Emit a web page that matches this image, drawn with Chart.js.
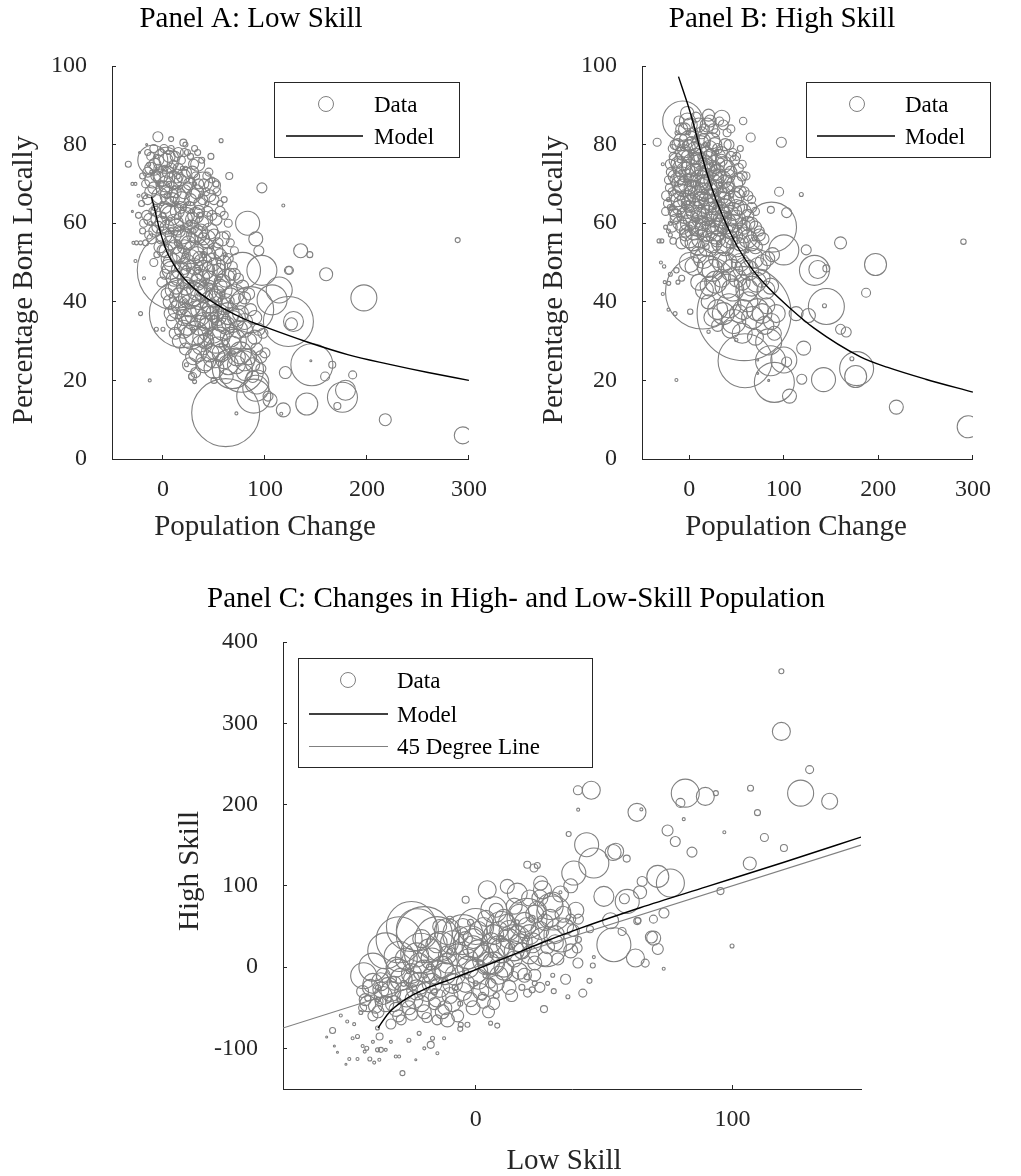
<!DOCTYPE html>
<html>
<head>
<meta charset="utf-8">
<title>Population change and share born locally</title>
<script src="https://cdn.jsdelivr.net/npm/chart.js@4.4.1/dist/chart.umd.min.js"></script>
<style>
  body { margin: 0; background: #fff; }
  #page { position: relative; width: 1021px; height: 1176px; }
  .panel { position: absolute; }
  #boxA { left: 0; top: 0; width: 510px; height: 560px; }
  #boxB { left: 510px; top: 0; width: 511px; height: 560px; }
  #boxC { left: 0; top: 560px; width: 1021px; height: 616px; }
</style>
</head>
<body>
<div id="page">
  <div class="panel" id="boxA"><canvas id="chartA"></canvas></div>
  <div class="panel" id="boxB"><canvas id="chartB"></canvas></div>
  <div class="panel" id="boxC"><canvas id="chartC"></canvas></div>
</div>
<script>
/* ---------- DATA ---------- */
// tick values
const popTicks = [0, 100, 200, 300];
const shareTicks = [0, 20, 40, 60, 80, 100];
const lowChangeTicks = [0, 100];
const highChangeTicks = [-100, 0, 100, 200, 300, 400];

// Panel A: [population change, % born locally, marker radius]
const lowSkillCities = [
  [289,55.7,2.5],[294,6,8.5],[218,10,6],[197,41,13],[176,15.7,15],[179,17.5,10],[171,13.5,3.5],[186,21.4,4],
  [166,24,3.5],[159,21,4.5],[160,47,6.5],[146,24,21],[145,25,1],[141,14,11],[135,53,7],[144,52,3],
  [118,64.5,1.5],[123,48,4],[126,34.4,6],[128,35,10],[118,12.5,7],[120,22,6],[116,11.5,1.5],[97,69,5],
  [57,81,2],[65,72,3.5],[83,60,12],[91,56,7],[94,53,5],[97,48,15],[107,40.5,15],[123,35,25],
  [89,16,17],[91,18,13],[92,19.6,12],[105,15,7],[103,16,5],[61.5,11.8,34],[72,11.6,1.5],[68,23,20],
  [77,22.6,22],[29,21,4],[-13,20,1.5],[-22,37,2],[-34,75,3],[-5,82,5],[8,81.4,2.5],[20,80.5,3.5],
  [22,80,2.5],[31,79,3],[47,77,3],[114,43,13],[86,38,23],[78,48,18],[124,48,4],[14,48,40],
  [20,37,34],[-10,76,15],[3,76,13],[34,75,7],[39,70.5,10],[48.5,69.5,8],
  [-27,50.4,1.5],[-18.6,46,1.5],[-6.5,33,2],[0,33,2],[23,24,2],[28,21,3],[31,19.7,2],[50,20,3],
  [-30,70,1.5],[-27,70,1.5],[-24,67,1.5],[-29,55,1.5],[-26,55,2],[-22,55,2],[-20,58,3],[-24,62,3],
  [-30,63,1],[-23,78,1],[-16,80,1],
  [-12,77,4],[-8,75,6],[-2,78,3],[3,76,7],[8,79,3],[12,77,5],[18,76,4],[24,78,3],[30,75,5],[38,76,3],[45,73,4],
  [-20,72,3],[-15,73,5],[-10,71,8],[-5,74,4],[0,72,10],[5,73,6],[10,71,9],[15,74,5],[20,72,7],[26,70,6],[32,72,4],[40,70,5],[48,71,3],
  [-18,67,3],[-12,68,6],[-6,66,5],[0,69,7],[6,67,9],[12,68,6],[18,66,8],[24,69,5],[30,67,7],[36,65,6],[42,68,4],[50,66,5],[56,65,3],
  [-16,62,5],[-10,63,4],[-4,61,8],[2,64,6],[8,62,10],[14,63,7],[20,61,9],[26,64,6],[32,62,8],[38,60,7],[44,63,5],[52,61,6],[60,62,4],
  [-14,57,4],[-8,58,6],[-2,56,5],[4,59,7],[10,57,8],[16,58,6],[22,56,10],[28,59,7],[34,57,9],[40,56,6],[46,58,8],[54,55,5],[62,57,4],
  [-6,52,3],[0,53,6],[6,51,8],[12,54,7],[18,52,9],[24,50,8],[30,53,10],[36,51,7],[42,54,8],[48,50,9],[56,52,6],[64,51,5],[70,53,4],
  [2,47,5],[8,48,9],[14,46,7],[20,49,8],[28,47,11],[34,45,8],[40,48,10],[46,46,7],[52,49,9],[58,45,8],[66,47,6],[74,46,5],
  [4,42,6],[10,43,8],[16,41,10],[22,44,9],[30,42,12],[36,40,8],[44,43,10],[50,41,9],[56,44,7],[62,40,8],[70,42,10],[80,41,6],
  [8,37,7],[14,38,9],[20,36,8],[26,39,11],[34,37,13],[40,35,9],[48,38,10],[54,36,8],[60,39,9],[68,35,11],[76,37,8],[86,38,6],
  [12,32,6],[20,33,9],[28,31,12],[36,34,10],[42,30,8],[48,33,14],[56,31,10],[62,34,9],[70,30,12],[80,33,8],[90,31,7],[98,32,5],
  [22,28,6],[30,26,8],[38,29,10],[46,27,9],[54,28,12],[60,25,8],[68,29,9],[76,27,11],[84,26,8],[92,28,6],[100,27,5],
  [32,22,5],[40,24,8],[50,23,10],[62,21,7],[72,24,9],[80,22,8],[88,21,6],[96,23,5],
  [-14,75,2],[-6,77,2],[2,74,3],[6,70,2.5],[14,72,3],[22,74,2],[28,71,3],[-2,70,3],[10,66,3],[16,69,2],
  [4,67,3],[20,64,3],[26,60,3],[8,58,3],[14,55,3],[30,58,2.5],[36,62,3],[22,52,3],[40,52,3],[34,48,3],
  [46,44,3],[52,38,3],[58,42,2.5],[28,44,3],[-8,64,3],[-12,60,2],[-4,58,2],[0,62,3],
  [-15,78,3],[-9,79,4],[-4,76,5],[1,79,4],[6,77,6],[10,75,4],[15,78,5],[21,78,4],[27,77,3],[34,78,3],
  [-17,70,4],[-12,74,6],[-7,72,5],[-2,72,7],[3,70,8],[8,74,5],[13,72,7],[17,71,6],[23,73,5],[29,73,6],[35,70,5],[43,72,4],[52,70,3],
  [-21,65,3],[-15,66,5],[-9,69,6],[-3,67,8],[3,68,6],[9,66,7],[15,67,8],[21,68,7],[27,66,6],[33,68,7],[39,66,5],[46,67,6],[53,68,4],[60,66,3],
  [-19,60,4],[-13,61,6],[-7,63,5],[-1,60,7],[5,63,8],[11,60,9],[17,64,6],[23,62,8],[29,61,7],[35,63,6],[41,61,8],[48,62,5],[56,63,5],[64,60,4],
  [-17,55,3],[-11,56,5],[-5,59,6],[1,57,8],[7,55,7],[13,59,8],[19,57,9],[25,55,7],[31,57,8],[37,58,7],[43,56,9],[50,57,6],[58,56,7],[66,55,4],
  [-9,50,4],[-3,54,6],[3,53,7],[9,50,9],[15,52,8],[21,54,7],[27,51,9],[33,52,8],[39,50,9],[45,52,7],[51,53,8],[60,50,7],[68,49,5],
  [-1,45,5],[5,49,7],[11,46,8],[17,48,9],[24,46,10],[31,49,8],[37,46,9],[43,48,8],[49,47,10],[55,48,7],[62,46,9],[70,47,6],[78,44,6],
  [7,40,7],[13,44,8],[19,42,9],[26,41,11],[33,43,10],[40,42,9],[47,40,11],[53,42,8],[59,43,9],[66,41,10],[74,40,8],[84,42,6],
  [11,35,8],[17,39,9],[23,37,10],[30,36,12],[37,38,10],[44,36,11],[51,37,9],[57,35,10],[64,37,11],[72,36,9],[80,35,8],[90,36,7],
  [16,30,7],[24,34,10],[32,32,12],[39,31,10],[45,35,9],[52,30,12],[59,33,11],[66,31,10],[74,33,9],[84,30,8],[94,33,6],
  [26,24,7],[34,27,9],[42,25,10],[50,26,11],[57,27,9],[64,24,10],[72,26,9],[80,25,10],[88,24,7],[96,26,6],
  [-11,73,2],[-5,70,2],[5,78,2],[11,69,2],[19,74,2],[25,65,2],[31,70,2],[37,67,2],[-1,65,2],[7,61,2],
  [13,65,2],[19,59,2],[29,63,2],[43,65,2],[3,55,2],[17,54,2],[33,55,2],[47,54,2],[25,48,2],[41,45,2],
  [55,46,2],[61,52,2],[21,40,2],[35,42,2],[49,36,2],[63,38,2],[29,33,2],[43,32,2],[57,29,2],[69,27,2]
];
const lowSkillModelX = [-11.3, -8, -4, 0, 4, 8, 15, 23, 35, 48.5, 60, 80, 100, 140, 182, 220, 260, 300];
const lowSkillModelY = [66.7, 63.4, 59, 55.5, 52.6, 50.6, 47.8, 45.3, 42.4, 40, 38.2, 35.6, 33.6, 29.9, 26.5, 24.2, 22, 20];

// Panel B: [population change, % born locally, marker radius]
const highSkillCities = [
  [290,55.3,2.7],[295,8.2,11],[219,13.2,7],[197,49.5,11],[187,42.3,4.5],[177,23,17],[176,21,11],[172,25.5,2],
  [160,55,6],[160,33,5],[166,32.3,5],[142,20.2,12],[145,38.8,18],[143,39,2],[136,48.2,9],[145,48.5,3.5],
  [126,36.5,7],[121,28.2,7],[119,20.3,5],[106,16,7],[103,24.7,5],[90,19.5,20],[86,25,15],[59,25,27],
  [58,37,47],[14,42.5,37],[113,37,7],[-13.6,20.1,1.5],[84,29.8,13],[100,25.2,13],[-34,80.6,4],[97.4,80.6,5],
  [95,68,4.5],[118.5,67.3,2],[57,86,3.7],[65,81.8,4.5],[34.4,86.7,8],[20.4,87.5,6],[-7,86,20],[-2.2,88,6.7],
  [123.7,53.2,5],[103,62.7,5],[86.3,63.4,3.5],[87,59,25],[100,53.2,15],[132.4,48,15],[-32,55.5,2],[-29,55.5,2],
  [-17,55.5,3.3],[-30,50,1.5],[-21.7,44.7,2],[-13.6,48,2.7],[-26.6,49,1.7],[1,37.5,2.7],[20.4,32.4,1.7],
  [49.7,30.3,1.7],[72.4,25.2,1],[72.4,21.8,1],[84,20,1],[-28,75,1.5],[-26,45,1.5],[-28,42,1.5],[-20,47,2],
  [-22,38,1.5],[-15,37,2],[-12,45,2],[-8,46,3],[-25,59,2],[-22,58,2],[-20,57,2],
  [-8,84,6],[-2,86,8],[4,83,5],[10,85,7],[16,84,5],[22,86,6],[28,83,4],[36,85,5],[44,84,4],
  [-18,79,4],[-12,80,6],[-6,78,8],[0,81,10],[6,79,7],[12,80,9],[18,78,6],[24,81,8],[30,79,5],[38,80,6],[46,78,4],[54,79,3],
  [-20,75,5],[-14,76,7],[-8,74,9],[-2,77,6],[4,75,11],[10,76,8],[16,74,10],[22,77,7],[28,75,9],[34,76,6],[40,74,8],[48,76,5],[56,75,4],
  [-22,71,4],[-16,72,6],[-10,70,8],[-4,73,10],[2,71,7],[8,72,12],[14,70,9],[20,73,8],[26,71,10],[32,72,7],[38,70,9],[44,73,6],[52,71,7],[60,72,4],
  [-24,67,5],[-18,68,4],[-12,66,7],[-6,69,9],[0,67,6],[6,68,10],[12,66,8],[18,69,11],[24,67,7],[30,68,9],[36,66,8],[42,69,6],[50,67,8],[58,68,5],[66,66,4],
  [-25,63,4],[-20,64,3],[-14,62,6],[-8,65,8],[-2,63,7],[4,64,9],[10,62,8],[16,65,10],[22,63,9],[28,64,7],[34,62,10],[40,65,8],[46,63,9],[54,64,7],[62,62,6],[70,63,4],
  [-18,59,5],[-10,60,7],[-4,58,6],[2,61,8],[8,59,9],[14,60,7],[20,58,10],[26,61,8],[32,59,9],[38,60,11],[44,58,8],[50,61,9],[58,59,7],[66,60,6],[74,58,5],
  [-8,55,6],[0,56,9],[8,54,8],[16,57,7],[24,55,10],[30,56,8],[38,54,9],[46,57,10],[54,55,8],[62,56,9],[70,54,7],[78,56,6],
  [0,50,10],[10,52,8],[20,49,11],[30,51,9],[40,50,10],[50,52,8],[58,49,9],[68,51,10],[78,50,8],[88,52,7],
  [10,45,8],[22,44,10],[34,46,9],[46,43,11],[56,45,8],[66,44,10],[76,46,9],[86,44,8],
  [20,40,7],[30,38,10],[42,39,12],[52,37,9],[62,40,10],[72,38,11],[82,39,8],[92,37,9],
  [30,34,6],[44,33,9],[56,32,10],[70,31,8],[80,34,9],[90,32,7],
  [-4,80,3],[2,78,3],[8,82,2.5],[14,76,3],[20,80,2],[26,74,3],[-10,76,2.5],[4,70,3],[10,74,2],[16,68,3],
  [22,70,2.5],[30,66,3],[-6,68,2],[0,64,3],[12,64,2.5],[24,60,3],[36,58,2.5],[6,58,3],[18,54,3],[42,62,3],
  [48,56,2.5],[-14,70,2],[-18,64,2.5],[-20,60,2],[-22,66,2],
  [-11,86,5],[-5,84,6],[1,85,7],[7,87,5],[13,83,6],[19,85,7],[25,84,5],[32,86,4],[40,83,4],
  [-15,80,5],[-9,81,7],[-3,79,9],[3,80,8],[9,78,9],[15,81,7],[21,79,8],[27,80,7],[34,78,6],[42,80,5],[50,77,4],
  [-17,77,4],[-11,75,8],[-5,76,10],[1,74,9],[7,77,8],[13,75,11],[19,76,9],[25,74,8],[31,77,7],[37,75,8],[44,77,5],[52,74,5],
  [-19,73,5],[-13,71,7],[-7,72,9],[-1,70,10],[5,73,9],[11,71,10],[17,72,8],[23,70,11],[29,73,8],[35,71,9],[41,72,7],[48,70,8],[56,72,5],
  [-21,69,4],[-15,67,6],[-9,68,8],[-3,66,9],[3,69,8],[9,67,10],[15,68,9],[21,66,10],[27,69,8],[33,67,9],[39,68,8],[46,66,9],[54,68,6],[62,67,5],
  [-23,65,4],[-17,63,5],[-11,64,7],[-5,62,8],[1,65,9],[7,63,10],[13,64,8],[19,62,10],[25,65,9],[31,63,10],[37,64,9],[43,62,10],[50,64,8],[58,63,7],[66,64,5],
  [-15,61,5],[-7,59,7],[-1,60,8],[5,58,9],[11,61,8],[17,59,10],[23,60,9],[29,58,10],[35,61,9],[41,59,10],[47,60,9],[54,58,8],[62,60,7],[70,59,6],
  [-4,57,6],[4,55,8],[12,56,9],[20,54,10],[27,57,9],[34,55,10],[42,56,9],[50,54,10],[58,57,8],[66,55,8],[74,57,6],
  [5,49,9],[15,51,10],[25,48,11],[35,50,10],[45,48,11],[54,50,9],[63,48,10],[73,49,9],[83,51,7],
  [16,43,9],[28,45,11],[40,44,12],[51,46,9],[61,43,11],[71,45,10],[81,43,9],
  [25,36,9],[36,37,11],[47,35,12],[57,38,10],[67,36,11],[77,37,10],[87,35,8],
  [-13,83,2],[-7,79,2],[-1,83,2],[5,81,2],[11,77,2],[17,80,2],[23,75,2],[29,78,2],[-9,73,2],[-3,71,2],
  [3,67,2],[9,70,2],[15,66,2],[21,72,2],[27,64,2],[33,70,2],[39,62,2],[45,67,2],[-11,62,2],[-5,65,2],
  [1,59,2],[7,61,2],[13,57,2],[19,60,2],[31,55,2],[37,59,2],[45,54,2],[53,59,2],[61,53,2],[69,56,2]
];
const highSkillModelX = [-11.4, -2, 4.2, 12.4, 22, 35, 51, 67.5, 84, 106, 132, 181, 210, 250, 300];
const highSkillModelY = [97.3, 90.5, 85.5, 78, 70.2, 62, 54, 48, 43.5, 38.5, 33.3, 26, 23.3, 20.3, 17];

// Panel C: [low-skill change, high-skill change, marker radius]
const skillChangeCities = [
  [119,364,2.5],[119,290,9],[130,243,4],[126.5,214,13],[137.8,204,8],[107,220,3],[109.7,190,3],[112.4,159.5,4],
  [120,146.5,3.5],[106.7,127.5,6.5],[96.8,166,1.5],[95.3,93.5,3.5],[99.8,26,2],[81.6,214,14],[79.7,202,4.5],[89.4,210,9],
  [93.5,214,2.5],[81,182,1.5],[74.7,168,5.5],[77.7,154.5,5],[84.2,141.5,5],[75.8,103.4,14],[70.9,111.6,11],[64.8,105.4,5],
  [73.3,66.5,5],[69.2,59,4],[68.4,37,6],[70.9,22.2,5.5],[73.2,-2,1.5],[62.8,190.4,9],[64.5,194,1.5],[58.8,133.5,3.5],
  [53.5,141,8],[54.5,142.5,8],[45,217.5,9],[39.8,217.5,4.5],[39.9,193.7,1.5],[36.2,163.8,2.5],[43.2,150.6,12],[53.8,27.5,17],
  [62.2,11.1,9],[66,4.9,4],[57,43.8,4],[63.2,57.4,3],[46,128,15],[38.2,115.7,12],[49.9,87,10],[59,80.8,12],
  [64,92,6.5],[52.5,57,8],[62.9,56.6,3.5],[69.3,35.7,7],[39.5,23.4,5],[39.8,5,5],[45.6,2,2.5],[44.3,-16.9,2.5],
  [41.7,-32,4],[35.9,-36.5,2],[30.4,-29.6,2.5],[26.6,-51.7,3.5],[46,12.3,1.5],[37,59,5],[40,59,5],[20.2,-32,4],
  [22,-28,3],[27.5,25,20],[29,74.6,13],[33.2,39.5,17],[33,92,1.5],[57.9,84,5],[44.5,46.5,3.5],[40,34,3],
  [30,-10,2],[28,-20,2],[23,-20,2.5],[20,-12,3],
  [-43.6,-10.7,13],[-29.8,33.6,23],[-22.7,46,21],[-29.8,13,15],[-21.4,17,20],[-13.6,25.4,15],[-11,43.8,13],[-2,29.6,17],
  [7.1,70.6,13],[16.2,91,10],[30.4,66.5,17],[4.5,95.2,9],[12.3,99.3,7],[25.3,103.4,7],[-36.9,-28,8],[-31.7,-19.8,7],
  [-11,-65,7],[-6,-76,2.5],[2.6,-36,4],[5.8,-19.7,5],[14.8,-11.5,5],[-37.6,-42.3,4],[-38.2,-75,2],[-3.9,82.9,3.5],
  [20.1,126,3.5],[22.7,122,4],[24,125,3],[-10,58.3,3.5],
  [-55.7,-78,3],[-52.5,-59.6,1.5],[-50,-67,1.5],[-53.8,-104.7,1],[-50.5,-119.5,1],[-49.2,-113,1.5],[-47.3,-70.2,1.5],[-47.9,-87.5,1.5],
  [-46,-85.4,2],[-46,-113,1.5],[-44.7,-55.9,2],[-44,-97,1.5],[-42.4,-99.8,2],[-43.2,-104,1.5],[-41.2,-113,2],[-39.5,-117.5,1.5],
  [-38.2,-101.8,2],[-36.9,-101.8,2.5],[-35,-101.8,1.5],[-37.5,-114,1.5],[-37.4,-85.4,3.5],[-31.1,-110,1.5],[-29.8,-110,1.5],[-28.5,-130.5,2.5],
  [-23.3,-114,1],[-17.5,-95.7,3.5],[-14.9,-106,1.5],[-22,-81.5,2],[-16.8,-87.6,2],[-12.3,-87.6,1.5],[-5.8,-71,2.5],[-3.2,-71,2.5],
  [5.8,-69,2],[8.4,-72,2.5],[-55,-97,1],[-58,-86,1],[-40,-92,1.5],[-33,-92,1.5],[-26,-90,2],[-20,-100,1.5],
  [-44,-30,6],[-42,-45,8],[-40,-20,10],[-38,-55,6],[-36,-35,9],[-36,-10,7],[-40,-60,5],[-44,-50,4],
  [-34,-25,10],[-32,-45,8],[-30,-5,12],[-30,-60,6],[-28,-30,9],[-27,10,11],[-26,-50,7],[-33,-70,5],[-25,-15,8],
  [-24,-40,9],[-22,-20,11],[-22,5,10],[-20,-55,7],[-19,-30,10],[-18,20,12],[-17,-10,9],[-16,-45,6],[-21,35,9],[-15,-65,5],
  [-14,-25,10],[-13,0,11],[-12,-50,7],[-11,15,9],[-10,-35,8],[-9,30,12],[-8,-10,10],[-7,-60,6],[-6,40,8],[-14,50,7],
  [-4,-20,9],[-3,10,10],[-2,-40,7],[-1,25,11],[0,-5,12],[1,45,9],[2,-30,8],[3,15,10],[4,60,8],[5,-55,6],[-4,35,7],
  [6,30,10],[7,5,11],[8,-20,8],[9,45,9],[10,20,12],[11,-5,9],[12,55,8],[13,35,10],[14,-35,6],[15,10,8],[8,70,7],
  [16,40,9],[17,65,10],[18,20,8],[19,-10,7],[20,50,9],[21,85,8],[22,30,10],[23,5,7],[24,70,9],[25,-25,5],
  [26,95,9],[27,55,8],[28,25,7],[30,80,10],[31,40,9],[32,10,6],[34,65,8],[35,-15,5],[37,100,7],[38,45,6],
  [-42,-38,3],[-38,-40,2.5],[-34,-40,3],[-30,-40,2],[-28,-20,3],[-24,-25,2.5],[-20,-10,3],[-16,-30,3],[-12,-15,2.5],[-8,-25,3],
  [-6,-45,2.5],[-4,-5,3],[0,-20,2.5],[2,5,3],[4,-10,3],[6,15,2.5],[8,-35,3],[10,35,3],[12,10,2.5],[14,25,3],
  [16,55,2.5],[18,-25,3],[20,35,2.5],[22,60,3],[-2,55,3],[-10,20,2.5],[-18,0,3],[-26,-5,2.5],[-32,-15,3],[-38,-25,2.5],
  [-43,-40,6],[-41,-25,8],[-39,-48,7],[-37,-18,9],[-35,-45,8],[-33,-30,10],[-31,-52,7],[-31,0,10],[-29,-15,11],[-29,-65,5],
  [-27,-38,9],[-25,-58,6],[-25,-8,10],[-23,-28,10],[-23,15,12],[-21,-45,8],[-20,-5,11],[-19,-62,5],[-17,-20,10],[-17,10,11],
  [-15,-38,9],[-15,30,10],[-13,-55,7],[-12,-8,11],[-11,5,10],[-9,-45,8],[-9,-20,10],[-7,15,11],[-5,-30,9],[-5,50,8],
  [-3,0,11],[-1,-50,7],[-1,35,10],[1,-15,10],[1,20,11],[3,-42,7],[3,50,9],[5,5,11],[5,-25,9],[7,40,10],
  [7,-45,6],[9,25,11],[9,-10,9],[11,60,9],[11,0,10],[13,45,10],[13,-25,7],[15,20,10],[15,75,8],[17,30,9],
  [17,-5,8],[19,55,10],[21,15,9],[21,40,10],[23,65,9],[23,-10,6],[25,45,9],[25,85,8],[27,10,7],[29,60,9],
  [31,30,8],[33,90,8],[35,50,8],[37,20,7],[39,70,8],
  [-25,50,25],[-20,40,28],[-15,35,22],[-5,40,20],[0,50,18],[10,50,15],[-35,20,18],[-40,0,14],[20,60,20],[15,30,18],[5,10,16]
];
const skillModelX = [-38, -34, -28, -19, -8, 0, 12, 25, 40, 64, 90, 120, 150];
const skillModelY = [-75, -57, -41, -26, -13, -3, 12, 29, 47, 73, 99, 129, 160];
const degreeLineX = [-75, 150];
const degreeLineY = [-75, 150];

/* ---------- STYLE ---------- */
const INK = '#262626';
const GREY = '#808080';
const SERIF = '"Liberation Serif", "Times New Roman", serif';
Chart.defaults.font.family = SERIF;

/* ---------- helpers ---------- */
function toBubbles(rows){ return rows.map(p => ({x: p[0], y: p[1], r: p[2]})); }
function toLine(xs, ys){ return xs.map((x, i) => ({x: x, y: ys[i]})); }

function axis(pos, min, max, tickValues){
  const left = pos === 'left';
  return {
    type: 'linear', position: pos, min: min, max: max, bounds: 'data',
    afterBuildTicks: s => { s.ticks = tickValues.map(v => ({value: v})); },
    afterFit: s => {
      if(left){ s.width = 70; s.paddingTop = 0; s.paddingBottom = 0; }
      else { s.height = 60; s.paddingLeft = 0; s.paddingRight = 0; }
    },
    border: {display: true, color: INK, width: 1},
    grid: {display: true, drawOnChartArea: false, drawTicks: true, tickLength: -4, color: INK, lineWidth: 1},
    ticks: {color: INK, font: {family: SERIF, size: 24}, padding: left ? 29 : 20, maxRotation: 0, autoSkip: false}
  };
}

// titles, axis labels and the boxed legend, drawn by hand in MATLAB style
function decor(spec){
  return {
    id: 'decor',
    afterDraw(chart){
      const ctx = chart.ctx;
      ctx.save();
      ctx.textAlign = 'center';
      ctx.textBaseline = 'alphabetic';
      ctx.font = `29px ${SERIF}`;
      ctx.fillStyle = '#000';
      ctx.fillText(spec.title, spec.titleAt[0], spec.titleAt[1]);
      ctx.fillStyle = INK;
      ctx.fillText(spec.xLabel, spec.xLabelAt[0], spec.xLabelAt[1]);
      ctx.save();
      ctx.translate(spec.yLabelAt[0], spec.yLabelAt[1]);
      ctx.rotate(-Math.PI / 2);
      ctx.fillText(spec.yLabel, 0, 0);
      ctx.restore();

      const L = spec.legend;
      ctx.fillStyle = '#fff';
      ctx.fillRect(L.x, L.y, L.w, L.h);
      ctx.strokeStyle = INK; ctx.lineWidth = 1;
      ctx.strokeRect(L.x + 0.5, L.y + 0.5, L.w, L.h);
      ctx.font = `23px ${SERIF}`;
      ctx.textAlign = 'left';
      L.items.forEach((it, i) => {
        const cy = L.rows[i];
        ctx.beginPath();
        if(it.kind === 'circle'){
          ctx.arc(L.markX, cy, 7.5, 0, Math.PI * 2);
          ctx.strokeStyle = GREY; ctx.lineWidth = 1;
        } else {
          ctx.moveTo(L.lineFrom, cy); ctx.lineTo(L.lineTo, cy);
          ctx.strokeStyle = it.color; ctx.lineWidth = it.width;
        }
        ctx.stroke();
        ctx.fillStyle = '#000';
        ctx.fillText(it.text, L.textX, cy + 7.5);
      });
      ctx.restore();
    }
  };
}

function bubbleSet(rows){
  return {type: 'bubble', label: 'Data', data: toBubbles(rows), borderColor: GREY,
          backgroundColor: 'rgba(0,0,0,0)', borderWidth: 1.1, hoverRadius: 0, order: 3};
}
function lineSet(label, xs, ys, color, width, smooth){
  return {type: 'line', label: label, data: toLine(xs, ys), borderColor: color, borderWidth: width,
          pointRadius: 0, fill: false, cubicInterpolationMode: smooth ? 'monotone' : 'default', order: 1};
}

function makeChart(id, datasets, xAxis, yAxis, pad, spec){
  return new Chart(document.getElementById(id), {
    type: 'bubble',
    data: {datasets: datasets},
    options: {
      responsive: true, maintainAspectRatio: false, animation: false, events: [],
      layout: {padding: pad},
      plugins: {legend: {display: false}, tooltip: {enabled: false}, title: {display: false}},
      scales: {x: xAxis, y: yAxis}
    },
    plugins: [decor(spec)]
  });
}

/* ---------- Panel A ---------- */
makeChart('chartA',
  [bubbleSet(lowSkillCities), lineSet('Model', lowSkillModelX, lowSkillModelY, '#000', 1.4, true)],
  axis('bottom', -50, 300, popTicks), axis('left', 0, 100, shareTicks),
  {left: 42, right: 39, top: 66, bottom: 41},
  {
    title: 'Panel A: Low Skill', titleAt: [251, 27],
    xLabel: 'Population Change', xLabelAt: [265, 535],
    yLabel: 'Percentage Born Locally', yLabelAt: [32, 280],
    legend: {x: 274, y: 82, w: 185, h: 75, markX: 326, lineFrom: 286, lineTo: 363, textX: 374, rows: [104, 136],
      items: [{kind: 'circle', text: 'Data'}, {kind: 'line', text: 'Model', color: '#000', width: 1.4}]}
  });

/* ---------- Panel B ---------- */
makeChart('chartB',
  [bubbleSet(highSkillCities), lineSet('Model', highSkillModelX, highSkillModelY, '#000', 1.4, true)],
  axis('bottom', -50, 300, popTicks), axis('left', 0, 100, shareTicks),
  {left: 62, right: 19, top: 66, bottom: 41},
  {
    title: 'Panel B: High Skill', titleAt: [272, 27],
    xLabel: 'Population Change', xLabelAt: [286, 535],
    yLabel: 'Percentage Born Locally', yLabelAt: [52, 280],
    legend: {x: 296, y: 82, w: 184, h: 75, markX: 347, lineFrom: 307, lineTo: 385, textX: 395, rows: [104, 136],
      items: [{kind: 'circle', text: 'Data'}, {kind: 'line', text: 'Model', color: '#000', width: 1.4}]}
  });

/* ---------- Panel C ---------- */
makeChart('chartC',
  [bubbleSet(skillChangeCities),
   lineSet('Model', skillModelX, skillModelY, '#000', 1.4, true),
   lineSet('45 Degree Line', degreeLineX, degreeLineY, GREY, 1.2, false)],
  axis('bottom', -75, 150, lowChangeTicks), axis('left', -150, 400, highChangeTicks),
  {left: 213, right: 160, top: 82, bottom: 27},
  {
    title: 'Panel C: Changes in High- and Low-Skill Population', titleAt: [516, 47],
    xLabel: 'Low Skill', xLabelAt: [564, 609],
    yLabel: 'High Skill', yLabelAt: [198, 311],
    legend: {x: 298, y: 98, w: 294, h: 109, markX: 348, lineFrom: 309, lineTo: 388, textX: 397, rows: [120, 154, 186.5],
      items: [{kind: 'circle', text: 'Data'},
              {kind: 'line', text: 'Model', color: '#000', width: 1.4},
              {kind: 'line', text: '45 Degree Line', color: GREY, width: 1.2}]}
  });
</script>
</body>
</html>
